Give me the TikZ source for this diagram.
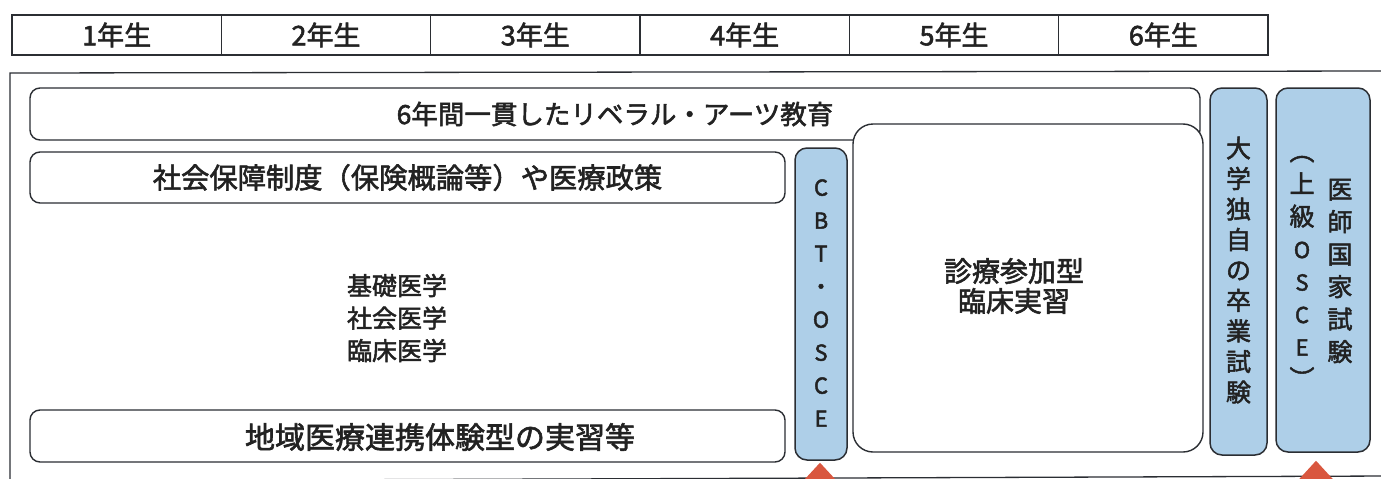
\documentclass[tikz,border=0pt]{standalone}
\usepackage{fontspec}
\setmainfont{Noto Sans CJK JP}[FakeBold=2]
\usetikzlibrary{calc}
\definecolor{examblue}{HTML}{AECFE8}
\definecolor{edge}{HTML}{2B2E33}
\definecolor{ink}{HTML}{222222}
\definecolor{arrowred}{HTML}{D9573F}
\tikzset{
  yearcell/.style={draw=edge, line width=1.3pt, minimum height=40pt, minimum width=209.33pt, inner sep=0pt, text=ink, font=\fontsize{27}{28}\selectfont},
  roundbox/.style={draw=edge, line width=1.4pt, rounded corners=10pt, fill=white, inner sep=0pt, text=ink, font=\fontsize{26.5}{30}\selectfont},
  exambox/.style={draw=edge, line width=1.5pt, rounded corners=12pt, fill=examblue, inner sep=0pt},
  vtext/.style={align=center, inner sep=0pt, text=ink, font=\fontsize{25}{30.5}\selectfont},
  latinv/.style={align=center, inner sep=0pt, text=ink, font=\fontsize{22}{33}\selectfont},
  plain/.style={align=center, inner sep=0pt, text=ink, font=\fontsize{25}{32.5}\selectfont},
  pointer/.style={fill=arrowred, draw=none},
}
\begin{document}
\begin{tikzpicture}[x=1pt,y=-1pt]
\useasboundingbox (0,0) rectangle (1381,479);
\clip (0,0) rectangle (1381,479);
\fill[white] (0,0) rectangle (1381,479);

% year header
\node[yearcell] (y1) at (116.67,35) {1年生};
\node[yearcell] (y2) at (326.0,35) {2年生};
\node[yearcell] (y3) at (535.33,35) {3年生};
\node[yearcell] (y4) at (744.67,35) {4年生};
\node[yearcell] (y5) at (954.0,35) {5年生};
\node[yearcell] (y6) at (1163.33,35) {6年生};

% outer frame
\draw[edge, line width=1.3pt] (1390,71) -- (10,73) -- (10,490);
\draw[edge, line width=1.3pt] (10,481) -- (1390,476);

% horizontal bands
\node[roundbox, minimum width=1170pt, minimum height=52pt] (lib) at (615,114) {6年間一貫したリベラル・アーツ教育};
\node[roundbox, minimum width=755pt, minimum height=51pt, font=\fontsize{28.3}{30}\selectfont] (soc) at (407.5,177.5) {社会保障制度（保険概論等）や医療政策};
\node[roundbox, minimum width=755pt, minimum height=52pt] (com) at (407.5,436) {};
\node[plain, font=\fontsize{30}{30}\selectfont] (comtext) at (440,437) {地域医療連携体験型の実習等};
\node[plain] (core) at (397,318) {基礎医学\\社会医学\\臨床医学};

% clinical clerkship
\node[roundbox, rounded corners=20pt, minimum width=350pt, minimum height=328pt] (clin) at (1028,288) {};
\node[plain, font=\fontsize{28}{30}\selectfont] (clintext) at (1014,286) {診療参加型\\臨床実習};

% exam columns
\node[exambox, minimum width=52pt, minimum height=312pt] (cbt) at (821,304) {};
\node[latinv] (cbttext) at (821,303) {C\\B\\T\\・\\O\\S\\C\\E};

\node[exambox, minimum width=57pt, minimum height=367pt] (grad) at (1238.5,271.5) {};
\node[vtext] (gradtext) at (1238.5,270) {大\\学\\独\\自\\の\\卒\\業\\試\\験};

\node[exambox, minimum width=94pt, minimum height=364pt] (nat) at (1323,270) {};
\node[vtext, font=\fontsize{25}{32.5}\selectfont] (natl) at (1302,272) {︵\\上\\級\\{\fontsize{22}{32.5}\selectfont O}\\{\fontsize{22}{32.5}\selectfont S}\\{\fontsize{22}{32.5}\selectfont C}\\{\fontsize{22}{32.5}\selectfont E}\\︶};
\node[vtext, font=\fontsize{25}{32.5}\selectfont] (natr) at (1340,271) {医\\師\\国\\家\\試\\験};

% red pointers
\fill[pointer] ($(cbt.south)+(-1,2)$) -- ++(-24,26) -- ++(48,0) -- cycle;
\fill[pointer] ($(nat.south)+(-7,8)$) -- ++(-22,24) -- ++(44,0) -- cycle;
\end{tikzpicture}
\end{document}
